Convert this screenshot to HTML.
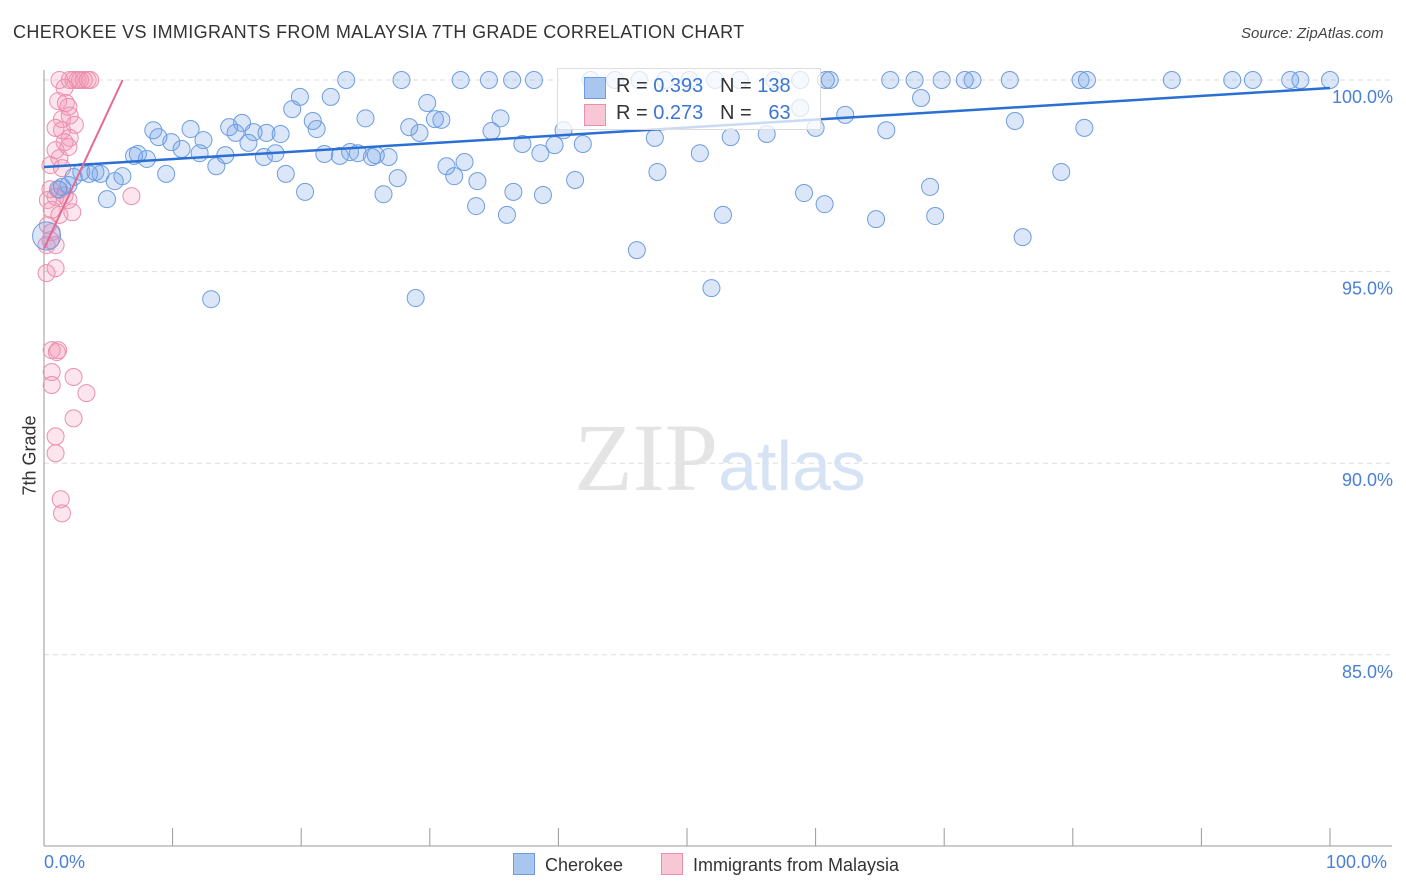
<!DOCTYPE html>
<html><head><meta charset="utf-8">
<style>
body{margin:0;background:#fff;font-family:"Liberation Sans",sans-serif;}
#wrap{position:relative;width:1406px;height:892px;overflow:hidden;}
.t{position:absolute;white-space:nowrap;}
</style></head>
<body>
<div id="wrap">
<div class="t" style="left:13px;top:22px;font-size:18px;letter-spacing:0.35px;color:#333;">CHEROKEE VS IMMIGRANTS FROM MALAYSIA 7TH GRADE CORRELATION CHART</div>
<div class="t" style="left:1241px;top:25px;font-size:15px;color:#444;font-style:italic;">Source: ZipAtlas.com</div>
<svg id="chart" width="1406" height="892" style="position:absolute;left:0;top:0"></svg>
</div>
<script>
const xTicks=[0,10,20,30,40,50,60,70,80,90,100];
const yTicks=[100,95,90,85];
const yTickLabels=["100.0%","95.0%","90.0%","85.0%"];
const cherokeeX=[23.5,27.8,32.4,34.6,36.4,38.1,42.5,44.4,46.3,48.3,50.2,52.2,54.1,56.8,58.8,60.8,61.1,65.8,67.7,69.8,71.6,72.2,75.1,80.6,81.1,87.7,92.4,94.0,96.9,97.7,100,
68.2,58.8,62.3,22.3,19.9,19.3,29.8,20.9,21.2,25.0,30.4,30.9,35.5,28.4,29.2,34.8,40.4,47.5,53.4,56.2,60.0,65.5,75.5,80.9,8.5,8.9,11.4,9.9,10.7,12.4,14.4,15.4,14.9,16.3,17.3,18.4,15.9,12.1,14.1,13.4,17.1,18.0,21.8,23.0,23.8,24.4,25.5,25.8,26.8,37.2,38.6,39.7,41.9,51.0,31.3,32.7,31.9,33.7,47.7,41.3,27.5,18.8,20.3,26.4,36.5,38.8,33.6,36.0,52.8,59.1,60.7,64.7,68.9,69.3,79.1,76.1,46.1,13.0,28.9,51.9,7.0,7.3,8.0,9.5,6.1,5.5,4.0,2.9,2.3,3.5,4.4,1.9,1.1,4.9,1.4];
const cherokeeY=[100,100,100,100,100,100,100,100,100,100,100,100,100,100,100,100,100,100,100,100,100,100,100,100,100,100,100,100,100,100,100,
99.53,99.27,99.09,99.56,99.56,99.24,99.4,98.93,98.72,99.0,98.98,98.96,99.0,98.77,98.62,98.67,98.69,98.49,98.51,98.59,98.75,98.69,98.93,98.75,98.69,98.51,98.72,98.38,98.2,98.43,98.77,98.88,98.62,98.64,98.62,98.59,98.36,98.09,98.04,97.75,97.99,98.09,98.07,98.02,98.12,98.09,97.99,98.04,97.99,98.33,98.09,98.3,98.33,98.09,97.75,97.86,97.49,97.36,97.6,97.39,97.44,97.55,97.08,97.02,97.08,97.0,96.71,96.48,96.48,97.05,96.76,96.37,97.21,96.45,97.6,95.9,95.56,94.28,94.31,94.57,98.02,98.07,97.94,97.55,97.49,97.36,97.6,97.6,97.47,97.55,97.55,97.26,97.15,96.89,97.21];
const malayX=[1.2,2.0,2.3,2.6,2.8,3.1,3.4,3.6,1.6,1.1,1.7,1.9,1.4,2.0,2.4,0.9,1.4,2.0,1.6,0.9,1.2,1.9,0.5,1.4,0.5,0.9,0.3,1.6,1.2,1.9,0.6,2.2,1.2,0.3,0.6,0.2,0.9,0.5,0.9,0.2,6.8,0.6,1.0,1.1,0.6,0.6,2.3,3.3,2.3,0.9,0.9,1.3,1.4];
const malayY=[100,100,100,100,100,100,100,100,99.8,99.45,99.4,99.3,98.98,99.07,98.83,98.75,98.69,98.49,98.38,98.17,97.96,98.25,97.78,97.7,97.15,96.95,96.87,96.99,97.13,96.87,96.61,96.55,96.48,96.21,96.03,95.69,95.69,95.82,95.09,94.96,96.97,92.95,92.9,92.95,92.38,92.04,92.25,91.83,91.17,90.7,90.26,89.06,88.69];
const blueTrend=[97.73,99.79];
const pinkTrend=[95.6,0.72];
const NS="http://www.w3.org/2000/svg";
const svg=document.getElementById('chart');
const X=v=>44+v*12.86;
const Y=v=>80+(100-v)*38.32;
function mk(tag,attrs){const e=document.createElementNS(NS,tag);for(const k in attrs)e.setAttribute(k,attrs[k]);svg.appendChild(e);return e;}
yTicks.forEach((v,i)=>{
 const g=mk('line',{x1:44,x2:1392,y1:Y(v),y2:Y(v),stroke:'#ddd','stroke-dasharray':'5,4'});
 
 
 const t=mk('text',{x:1393,y:Y(v)+23,'text-anchor':'end','font-size':18,fill:'#4a7fd6','font-family':'Liberation Sans'});
 t.textContent=yTickLabels[i];
 
 
});
const ax=mk('line',{x1:44,x2:44,y1:70,y2:846,stroke:'#999'});


const bx=mk('line',{x1:44,x2:1392,y1:846,y2:846,stroke:'#999'});


xTicks.forEach(v=>{
 const l=mk('line',{x1:X(v),x2:X(v),y1:828,y2:846,stroke:'#999'});
 
 
});
const wm=mk('text',{x:720,y:490,'text-anchor':'middle','font-size':96,fill:'#e4e4e4','font-family':'Liberation Serif'});
wm.innerHTML='ZIP<tspan fill="#d6e3f5" font-family="Liberation Sans" font-size="70">atlas</tspan>';


malayX.forEach((x,i)=>{
 const c=mk('circle',{cx:X(x),cy:Y(malayY[i]),r:8.5,fill:'rgba(244,150,180,0.25)',stroke:'#ec8fae','stroke-width':1});
 
 
});
cherokeeX.forEach((x,i)=>{
 const c=mk('circle',{cx:X(x),cy:Y(cherokeeY[i]),r:8.5,fill:'rgba(110,160,230,0.25)',stroke:'#6d9de0','stroke-width':1});
 
 
});
const big=mk('circle',{cx:X(0.2),cy:Y(95.93),r:14,fill:'rgba(110,160,230,0.25)',stroke:'#6d9de0'});


const bt=mk('line',{x1:X(0),y1:Y(blueTrend[0]),x2:X(100),y2:Y(blueTrend[1]),stroke:'#2a6fd4','stroke-width':2.5});


const pxEnd=(100-pinkTrend[0])/pinkTrend[1];
const pt=mk('line',{x1:X(0),y1:Y(pinkTrend[0]),x2:X(pxEnd),y2:Y(100),stroke:'#e56a93','stroke-width':2});


</script>
<div class="t" style="left:557px;top:68px;width:262px;height:60px;border:1px solid #ddd;background:rgba(255,255,255,0.75);font-size:20px;color:#333;">
 <div style="position:absolute;left:26px;top:8px;width:20px;height:20px;background:#a9c6ef;border:1px solid #6d9de0"></div>
 <div style="position:absolute;left:58px;top:6px">R = <span style="color:#3b76d3">0.393</span>&nbsp;&nbsp;&nbsp;N = <span style="color:#3b76d3">138</span></div>
 <div style="position:absolute;left:26px;top:35px;width:20px;height:20px;background:#f8c7d6;border:1px solid #ec8fae"></div>
 <div style="position:absolute;left:58px;top:33px">R = <span style="color:#3b76d3">0.273</span>&nbsp;&nbsp;&nbsp;N = &nbsp;&nbsp;<span style="color:#3b76d3">63</span></div>
</div>
<div class="t" style="left:-10px;top:445px;font-size:18px;color:#333;transform:rotate(-90deg);">7th Grade</div>
<div class="t" style="left:44px;top:852px;font-size:18px;color:#4a7fd6;">0.0%</div>
<div class="t" style="left:1326px;top:852px;font-size:18px;color:#4a7fd6;">100.0%</div>
<div class="t" style="left:513px;top:853px;font-size:18px;color:#333;"><span style="display:inline-block;width:20px;height:20px;background:#a9c6ef;border:1px solid #6d9de0;vertical-align:-4px;margin-right:10px"></span>Cherokee</div>
<div class="t" style="left:661px;top:853px;font-size:18px;color:#333;"><span style="display:inline-block;width:20px;height:20px;background:#f8c7d6;border:1px solid #ec8fae;vertical-align:-4px;margin-right:10px"></span>Immigrants from Malaysia</div>
</body></html>
